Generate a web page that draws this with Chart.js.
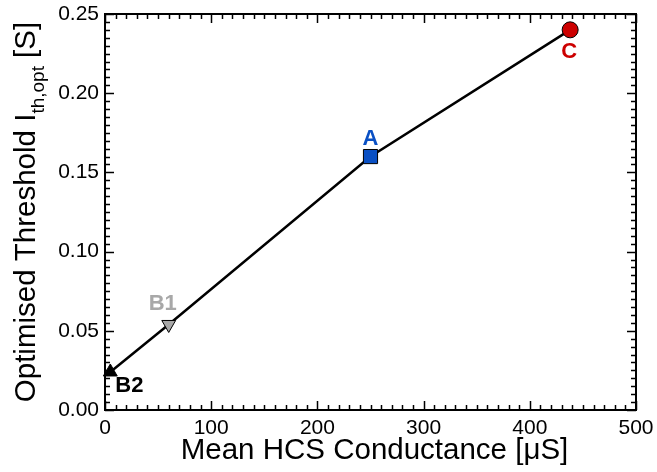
<!DOCTYPE html>
<html><head><meta charset="utf-8">
<script src="https://cdn.jsdelivr.net/npm/chart.js@4"></script>
<style>html,body{margin:0;padding:0;background:#fff}</style>
</head><body>
<canvas id="c" width="657" height="472"></canvas>
<script>
// Mean HCS conductance (µS) vs optimised threshold (S) for each case
const conductance = [5, 60, 250, 438];
const threshold = [0.024, 0.054, 0.16, 0.24];
const caseNames = ['B2', 'B1', 'A', 'C'];
const caseColors = ['#000000', '#a8a8a8', '#0a50c4', '#cc0000'];
const caseShapes = ['triangle', 'triangle', 'rect', 'circle'];
const caseRotation = [0, 180, 0, 0];
const caseRadius = [8, 8, 10, 8];
// label offsets (px) relative to each marker
const labelDx = [19, -6, 0, -1];
const labelDy = [14, -21, -18, 22];

const FONT = '"Liberation Sans", Arial, Helvetica, sans-serif';

const framePlugin = {
  id: 'frameTicks',
  beforeDatasetsDraw(chart) {
    const {ctx, chartArea: a, scales: {x, y}} = chart;
    ctx.save();
    ctx.strokeStyle = '#000';
    ctx.lineWidth = 1.5;
    ctx.beginPath();
    for (let v = 0; v <= 500 + 1e-9; v += 10) {
      const px = Math.round(x.getPixelForValue(v)) + 0.5;
      const len = (Math.round(v) % 100 === 0) ? 9 : 5;
      ctx.moveTo(px, a.bottom); ctx.lineTo(px, a.bottom - len);
      ctx.moveTo(px, a.top); ctx.lineTo(px, a.top + len);
    }
    for (let i = 0; i <= 50; i++) {
      const v = i * 0.005;
      const py = Math.round(y.getPixelForValue(v)) + 0.5;
      const len = (i % 10 === 0) ? 9 : 5;
      ctx.moveTo(a.left, py); ctx.lineTo(a.left + len, py);
      ctx.moveTo(a.right, py); ctx.lineTo(a.right - len, py);
    }
    ctx.stroke();
    ctx.lineWidth = 2;
    ctx.strokeRect(a.left, a.top, a.right - a.left, a.bottom - a.top);
    ctx.restore();
  },
  afterDatasetsDraw(chart) {
    const {ctx} = chart;
    const meta = chart.getDatasetMeta(0);
    ctx.save();
    ctx.font = 'bold 22px ' + FONT;
    ctx.textAlign = 'center';
    ctx.textBaseline = 'middle';
    meta.data.forEach((pt, i) => {
      ctx.fillStyle = caseColors[i];
      ctx.fillText(caseNames[i], pt.x + labelDx[i], pt.y + labelDy[i]);
    });
    ctx.restore();
  },
  afterDraw(chart) {
    const {ctx, chartArea: a} = chart;
    ctx.save();
    ctx.fillStyle = '#000';
    // x axis title
    ctx.font = '29.5px ' + FONT;
    ctx.textAlign = 'center';
    ctx.textBaseline = 'alphabetic';
    ctx.fillText('Mean HCS Conductance [\u03bcS]', (a.left + a.right) / 2 + 4, 459);
    // y axis title with subscript
    const main1 = 'Optimised Threshold I';
    const sub = 'th,opt';
    const main2 = ' [S]';
    const mainFont = '29.5px ' + FONT;
    const subFont = '19px ' + FONT;
    ctx.font = mainFont; const w1 = ctx.measureText(main1).width; const w3 = ctx.measureText(main2).width;
    ctx.font = subFont; const w2 = ctx.measureText(sub).width;
    const total = w1 + w2 + w3;
    ctx.translate(35, 212);
    ctx.rotate(-Math.PI / 2);
    ctx.textAlign = 'left';
    let sx = -total / 2;
    ctx.font = mainFont; ctx.fillText(main1, sx, 0); sx += w1;
    ctx.font = subFont; ctx.fillText(sub, sx, 9); sx += w2;
    ctx.font = mainFont; ctx.fillText(main2, sx, 0);
    ctx.restore();
  }
};

new Chart(document.getElementById('c'), {
  type: 'line',
  data: {
    datasets: [{
      data: conductance.map((v, i) => ({x: v, y: threshold[i]})),
      borderColor: '#000',
      borderWidth: 2.5,
      pointStyle: caseShapes,
      pointRotation: caseRotation,
      pointRadius: caseRadius,
      pointBackgroundColor: caseColors,
      pointBorderColor: '#000',
      pointBorderWidth: 1,
      tension: 0,
      clip: false
    }]
  },
  options: {
    responsive: false,
    animation: false,
    events: [],
    layout: {padding: {top: 14, right: 21, left: 0, bottom: 0}},
    plugins: {legend: {display: false}, tooltip: {enabled: false}},
    scales: {
      x: {
        type: 'linear', min: 0, max: 500,
        grid: {display: false, drawTicks: false},
        border: {display: false},
        ticks: {stepSize: 100, padding: 6, color: '#000', font: {size: 21, family: FONT}, maxRotation: 0},
        afterFit(s) { s.height = 62; s.paddingLeft = 0; s.paddingRight = 0; }
      },
      y: {
        type: 'linear', min: 0, max: 0.25,
        grid: {display: false, drawTicks: false},
        border: {display: false},
        ticks: {stepSize: 0.05, padding: 6, color: '#000', font: {size: 21, family: FONT},
          callback: v => v.toFixed(2)},
        afterFit(s) { s.width = 105; s.paddingTop = 0; s.paddingBottom = 0; }
      }
    }
  },
  plugins: [framePlugin]
});
</script>
</body></html>
